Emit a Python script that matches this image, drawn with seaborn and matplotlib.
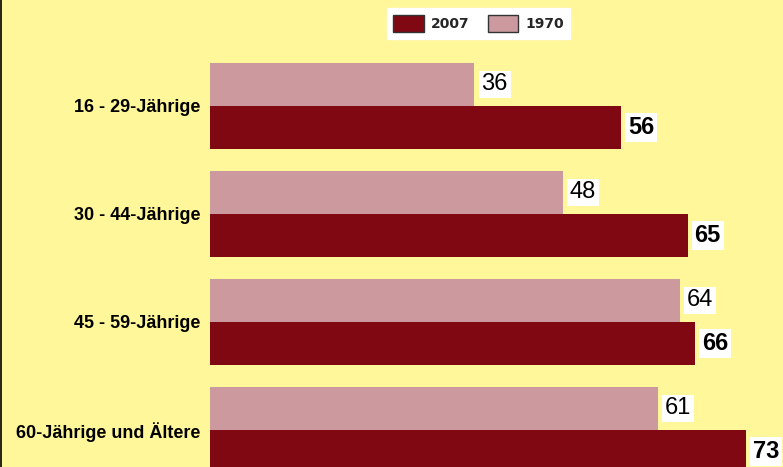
import matplotlib
matplotlib.use("Agg")
import matplotlib.pyplot as plt
import seaborn as sns
import pandas as pd
from matplotlib.patches import Patch
from matplotlib.lines import Line2D

categories = ["16 - 29-Jährige", "30 - 44-Jährige", "45 - 59-Jährige", "60-Jährige und Ältere"]
values_1970 = [36, 48, 64, 61]
values_2007 = [56, 65, 66, 73]
series = ["1970", "2007"]

BG = "#FFF799"
C2007 = "#800812"
C1970 = "#CC999E"

df = pd.DataFrame({
    "cat": categories * 2,
    "val": values_1970 + values_2007,
    "year": ["1970"] * 4 + ["2007"] * 4,
})

sns.set_theme(style="white")
plt.rcParams["font.family"] = ["Liberation Sans", "DejaVu Sans"]

fig = plt.figure(figsize=(7.83, 4.67), dpi=100, facecolor=BG)
ax = fig.add_axes([210 / 783, 0, 573 / 783, 1])
ax.set_facecolor(BG)

sns.barplot(data=df, y="cat", x="val", hue="year", hue_order=series,
            order=categories, palette={"1970": C1970, "2007": C2007},
            orient="h", width=0.8, saturation=1, edgecolor="none",
            legend=False, ax=ax)

ax.set_xlim(0, 78)
ax.set_ylim(3.343, -0.981)
ax.set_xlabel("")
ax.set_ylabel("")
ax.set_xticks([])
for s in ax.spines.values():
    s.set_visible(False)
ax.tick_params(axis="y", length=0, pad=7)
for lab in ax.get_yticklabels():
    lab.set_fontweight("bold")
    lab.set_fontsize(13)
    lab.set_color("black")

for ci, cont in enumerate(ax.containers):
    bold = series[ci] == "2007"
    for bar in cont:
        w = bar.get_width()
        yc = bar.get_y() + bar.get_height() / 2
        ax.annotate(f"{int(round(w))}", xy=(w, yc), xytext=(5, 0),
                    textcoords="offset points", va="center", ha="left",
                    fontsize=17, fontweight="bold" if bold else "normal",
                    color="black",
                    bbox=dict(boxstyle="square,pad=0.12", facecolor="white",
                              edgecolor="none"))

handles = [Patch(facecolor=C2007, edgecolor="#333333", linewidth=1),
           Patch(facecolor=C1970, edgecolor="#333333", linewidth=1)]
leg = fig.legend(handles, ["2007", "1970"], loc="center",
                 bbox_to_anchor=(478.5 / 783, 1 - 23.5 / 467), ncol=2, frameon=True,
                 fancybox=False, facecolor="white", edgecolor="white",
                 framealpha=1, handlelength=2.2, handleheight=1.6,
                 handletextpad=0.5, columnspacing=1.3, borderpad=0.45,
                 borderaxespad=0,
                 prop={"family": "DejaVu Sans", "weight": "bold", "size": 10})

fig.add_artist(Line2D([0.6 / 783, 0.6 / 783], [0, 1], transform=fig.transFigure,
                      color="black", linewidth=1.2))

fig.savefig("out.png", dpi=100, facecolor=BG)
